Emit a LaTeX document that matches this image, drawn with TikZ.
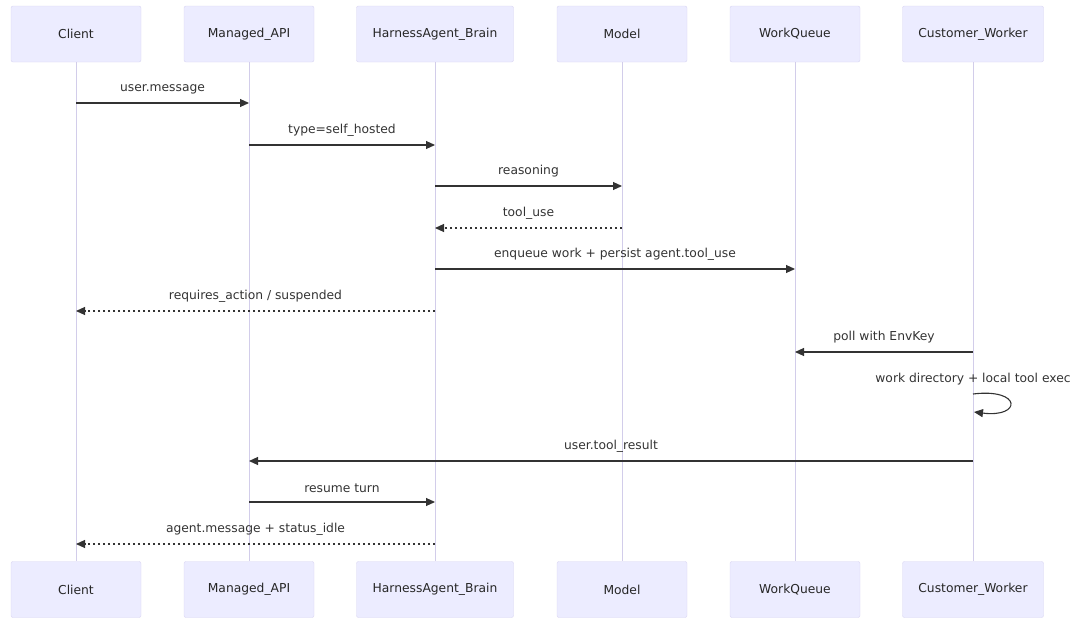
\documentclass[tikz,border=0pt]{standalone}
\usepackage{fontspec}
\setmainfont{DejaVu Sans}
\usetikzlibrary{positioning,arrows.meta,calc}
\definecolor{actorfill}{HTML}{ECECFF}
\definecolor{actorline}{HTML}{D8D4F2}
\definecolor{lifeline}{HTML}{D2CDEA}
\definecolor{msgline}{HTML}{333333}
\tikzset{
  actor/.style={draw=actorline,fill=actorfill,rounded corners=2pt,minimum height=56pt,
    minimum width=130pt,font=\fontsize{12.3}{14}\selectfont,text=black!85},
  msg/.style={draw=msgline,line width=1.1pt,-{Triangle[length=9pt,width=8pt]}},
  reply/.style={msg,dash pattern=on 2.5pt off 2.5pt},
  msglabel/.style={font=\fontsize{12.3}{14}\selectfont,text=black!80}
}
\begin{document}
\begin{tikzpicture}[x=1pt,y=-1pt]
\useasboundingbox (0,0) rectangle (1080,629);
% actors, top and bottom
\foreach \nm/\xx/\ww/\txt in {Cl/76/130/Client,Api/249/130/Managed\_API,Brain/435/157/HarnessAgent\_Brain,
  Mod/622/130/Model,Wq/795/130/WorkQueue,Cw/973/141/Customer\_Worker}
  {\node[actor,minimum width=\ww pt] (t\nm) at (\xx,34) {\txt};
   \node[actor,minimum width=\ww pt] (b\nm) at (\xx,589.5) {\txt};
   \draw[lifeline,line width=1pt] (t\nm.south) -- (b\nm.north);}
% messages
\draw[msg] (tCl.south |- 0,103) -- (tApi.south |- 0,103) node[msglabel,pos=0.5,above=5pt] {user.message};
\draw[msg] (tApi.south |- 0,145) -- (tBrain.south |- 0,145) node[msglabel,pos=0.5,above=5pt] {type=self\_hosted};
\draw[msg] (tBrain.south |- 0,186) -- (tMod.south |- 0,186) node[msglabel,pos=0.5,above=5pt] {reasoning};
\draw[reply] (tMod.south |- 0,228) -- (tBrain.south |- 0,228) node[msglabel,pos=0.5,above=5pt] {tool\_use};
\draw[msg] (tBrain.south |- 0,269) -- (tWq.south |- 0,269) node[msglabel,pos=0.5,above=5pt] {enqueue work + persist agent.tool\_use};
\draw[reply] (tBrain.south |- 0,311) -- (tCl.south |- 0,311) node[msglabel,pos=0.5,above=5pt] {requires\_action / suspended};
\draw[msg] (tCw.south |- 0,352) -- (tWq.south |- 0,352) node[msglabel,pos=0.5,above=5pt] {poll with EnvKey};
% self loop on worker
\coordinate (loopA) at (tCw.south |- 0,394);
\coordinate (loopB) at ($(tCw.south |- 0,412)+(1,0)$);
\node[msglabel,anchor=base] (loopTxt) at ($(loopA)+(0,-12)$) {work directory + local tool exec};
\draw[msg] (loopA) .. controls (1022,388) and (1022,418) .. (loopB);
\draw[msg] (tCw.south |- 0,461) -- (tApi.south |- 0,461) node[msglabel,pos=0.5,above=5pt] {user.tool\_result};
\draw[msg] (tApi.south |- 0,502) -- (tBrain.south |- 0,502) node[msglabel,pos=0.5,above=5pt] {resume turn};
\draw[reply] (tBrain.south |- 0,544) -- (tCl.south |- 0,544) node[msglabel,pos=0.5,above=5pt] {agent.message + status\_idle};
\end{tikzpicture}
\end{document}
